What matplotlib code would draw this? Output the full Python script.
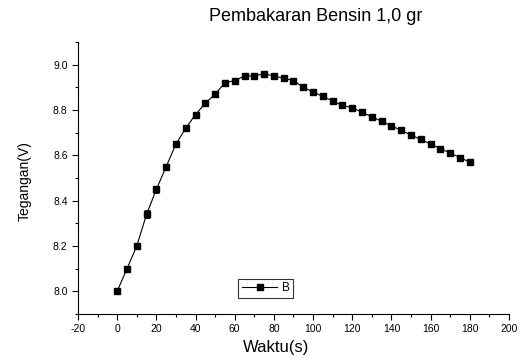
import numpy as np
import matplotlib
matplotlib.use("Agg")
from matplotlib import pyplot as plt
from matplotlib.ticker import MultipleLocator
from matplotlib.lines import Line2D

plt.rcParams['font.family'] = ['Liberation Sans', 'DejaVu Sans']
plt.rcParams['axes.unicode_minus'] = False

# data
waktu = np.arange(0, 181, 5)
tegangan = [8.00, 8.10, 8.20, 8.34, 8.45, 8.55, 8.65, 8.72, 8.78, 8.83,
            8.87, 8.92, 8.93, 8.95, 8.95, 8.96, 8.95, 8.94, 8.93, 8.90,
            8.88, 8.86, 8.84, 8.82, 8.81, 8.79, 8.77, 8.75, 8.73, 8.71,
            8.69, 8.67, 8.65, 8.63, 8.61, 8.59, 8.57]
galat = [0.0, 0.012, 0.015, 0.018, 0.015, 0.012, 0.012, 0.008, 0.005, 0.004,
         0.003, 0.003] + [0.0] * 25

fig = plt.figure(figsize=(5.18, 3.6), dpi=100)
ax = fig.add_axes([0.1506, 0.1278, 0.832, 0.7555])

ax.errorbar(waktu, tegangan, yerr=galat, color='black', lw=0.8,
            marker='s', markersize=5, capsize=2.5, elinewidth=0.6,
            capthick=0.6)

ax.set_xlim(-20, 200)
ax.set_ylim(7.9, 9.1)
ax.xaxis.set_major_locator(MultipleLocator(20))
ax.xaxis.set_minor_locator(MultipleLocator(10))
ax.yaxis.set_major_locator(MultipleLocator(0.2))
ax.yaxis.set_minor_locator(MultipleLocator(0.1))
ax.yaxis.set_major_formatter(plt.FormatStrFormatter('%.1f'))

ax.spines['top'].set_visible(False)
ax.spines['right'].set_visible(False)
ax.tick_params(which='major', direction='out', length=4, width=0.8, labelsize=7.5)
ax.tick_params(which='minor', direction='out', length=2.5, width=0.8)

ax.set_xlabel('Waktu(s)', fontsize=12)
ax.xaxis.set_label_coords(0.46, -0.095)
ax.set_ylabel('Tegangan(V)', fontsize=10)
ax.yaxis.set_label_coords(-0.108, 0.49)
fig.text(0.61, 0.955, 'Pembakaran Bensin 1,0 gr', fontsize=13,
         ha='center', va='center')

handle = Line2D([], [], color='black', lw=0.8, marker='s', markersize=5)
leg = ax.legend([handle], ['B'], loc='lower left', bbox_to_anchor=(0.372, 0.06),
                fontsize=8.5, frameon=True, fancybox=False, edgecolor='black',
                handlelength=3.0, borderpad=0.3, handletextpad=0.4,
                borderaxespad=0)
leg.get_frame().set_linewidth(0.8)

fig.savefig('out.png', dpi=100)
